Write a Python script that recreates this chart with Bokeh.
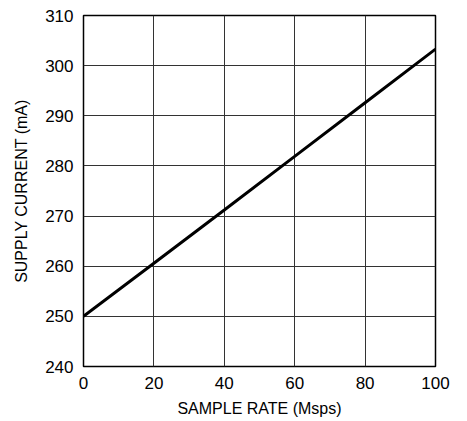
from bokeh.plotting import figure
from bokeh.models import Range1d, FixedTicker
from bokeh.embed import file_html
from bokeh.resources import INLINE

sample_rate = [0, 20, 40, 60, 80, 100]
supply_current = [250.0, 260.6, 271.2, 281.9, 292.6, 303.3]
x_ticks = [0, 20, 40, 60, 80, 100]
y_ticks = [240, 250, 260, 270, 280, 290, 300, 310]

FONT = "Liberation Sans"

p = figure(width=459, height=420, output_backend="svg", toolbar_location=None,
           x_range=Range1d(0, 100), y_range=Range1d(240, 310),
           min_border_left=83, min_border_right=24, min_border_top=15, min_border_bottom=54)
p.line(sample_rate, supply_current, line_color="black", line_width=3)

p.xaxis.ticker = FixedTicker(ticks=x_ticks)
p.yaxis.ticker = FixedTicker(ticks=y_ticks)
for ax in (p.xaxis, p.yaxis):
    ax.major_tick_out = 0
    ax.major_tick_in = 0
    ax.minor_tick_out = 0
    ax.minor_tick_in = 0
    ax.axis_line_color = None
    ax.major_label_text_font = FONT
    ax.major_label_text_font_size = "17px"
    ax.major_label_text_color = "black"
    ax.axis_label_text_font = FONT
    ax.axis_label_text_font_size = "16px"
    ax.axis_label_text_font_style = "normal"
    ax.axis_label_text_color = "black"
p.xaxis.axis_label = "SAMPLE RATE (Msps)"
p.yaxis.axis_label = "SUPPLY CURRENT (mA)"
p.xaxis.major_label_standoff = 10
p.yaxis.major_label_standoff = 10
p.xaxis.axis_label_standoff = 8
p.yaxis.axis_label_standoff = 12

p.grid.grid_line_color = "#333333"
p.grid.grid_line_width = 1
p.grid.grid_line_alpha = 1
p.outline_line_color = "black"
p.outline_line_width = 1.5
p.outline_line_alpha = 1
p.background_fill_color = "white"
p.border_fill_color = "white"

open("out.html", "w").write(file_html(p, INLINE))
